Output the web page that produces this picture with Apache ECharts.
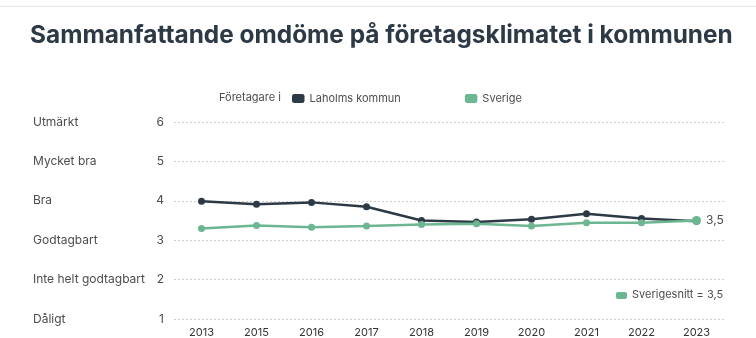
<!DOCTYPE html>
<html>
<head>
<meta charset="utf-8">
<script src="https://cdn.jsdelivr.net/npm/echarts@6/dist/echarts.min.js"></script>
<style>
  html, body { margin: 0; padding: 0; background: #fff; }
  #chart { width: 756px; height: 338px; }
</style>
</head>
<body>
<div id="chart"></div>
<script>
// Survey years and average rating (scale 1–6)
const years = ['2013', '2015', '2016', '2017', '2018', '2019', '2020', '2021', '2022', '2023'];
const laholms = [3.99, 3.91, 3.96, 3.85, 3.50, 3.46, 3.53, 3.67, 3.55, 3.48];
const sverige = [3.30, 3.37, 3.33, 3.36, 3.40, 3.42, 3.36, 3.44, 3.44, 3.50];
const sverigesnitt = 3.5;

// Verbal grade for each scale step
const gradeNames = ['', 'Dåligt', 'Inte helt godtagbart', 'Godtagbart', 'Bra', 'Mycket bra', 'Utmärkt'];

const DARK = '#2d3a46';
const GREEN = '#6db692';
const TEXT = '#4d4d4d';
const FONT = 'Inter, "Noto Sans", sans-serif';

const fmt = v => v.toFixed(1).replace('.', ',');

const chart = echarts.init(document.getElementById('chart'));

chart.setOption({
  animation: false,
  textStyle: { fontFamily: FONT },
  title: {
    text: 'Sammanfattande omdöme på företagsklimatet i kommunen',
    left: 30,
    top: 24,
    padding: 0,
    textStyle: { fontFamily: FONT, fontSize: 24.4, fontWeight: 'bold', color: '#2d3a46' }
  },
  legend: {
    left: 292,
    top: 93,
    padding: 0,
    itemWidth: 12.5,
    itemHeight: 9,
    itemGap: 64,
    icon: 'roundRect',
    textStyle: { fontFamily: FONT, fontSize: 11, color: TEXT },
    data: ['Laholms kommun', 'Sverige']
  },
  graphic: [
    { type: 'rect', left: 0, top: 6, shape: { width: 756, height: 1 }, style: { fill: '#e6e6e6' } },
    { type: 'text', left: 219, top: 92, style: { text: 'Företagare i', font: '11px ' + FONT, fill: TEXT } },
    { type: 'rect', left: 616, top: 292, shape: { width: 11, height: 7, r: 2 }, style: { fill: GREEN } },
    { type: 'text', left: 632, top: 289, style: { text: 'Sverigesnitt = ' + fmt(sverigesnitt), font: '11px ' + FONT, fill: TEXT } }
  ],
  grid: { left: 174, right: 32, top: 122, bottom: 15, containLabel: false },
  xAxis: {
    type: 'category',
    data: years,
    boundaryGap: true,
    axisLine: { show: false },
    axisTick: { show: false },
    axisLabel: { margin: 8, fontSize: 11, color: '#333', fontFamily: FONT }
  },
  yAxis: [
    {
      type: 'value',
      min: 1, max: 6, interval: 1,
      axisLine: { show: false },
      axisTick: { show: false },
      axisLabel: { margin: 10, fontSize: 12, color: TEXT, fontFamily: FONT },
      splitLine: { lineStyle: { color: '#cfcfcf', type: [2, 2], width: 1 } }
    },
    {
      type: 'value',
      position: 'left',
      min: 1, max: 6, interval: 1,
      axisLine: { show: false },
      axisTick: { show: false },
      splitLine: { show: false },
      axisLabel: {
        margin: 141,
        align: 'left',
        fontSize: 12,
        color: TEXT,
        fontFamily: FONT,
        formatter: v => gradeNames[v] || ''
      }
    }
  ],
  series: [
    {
      name: 'Laholms kommun',
      type: 'line',
      data: laholms,
      color: DARK,
      symbol: 'circle',
      symbolSize: 7,
      lineStyle: { width: 2.5, color: DARK },
      itemStyle: { color: DARK },
      z: 2
    },
    {
      name: 'Sverige',
      type: 'line',
      data: sverige.map((v, i) => i === sverige.length - 1
        ? { value: v, symbolSize: 9, label: { show: true, position: 'right', distance: 5, formatter: p => fmt(p.value), fontSize: 12, color: TEXT, fontFamily: FONT } }
        : v),
      color: GREEN,
      symbol: 'circle',
      symbolSize: 7,
      lineStyle: { width: 2.5, color: GREEN },
      itemStyle: { color: GREEN },
      z: 3
    }
  ]
});
</script>
</body>
</html>
